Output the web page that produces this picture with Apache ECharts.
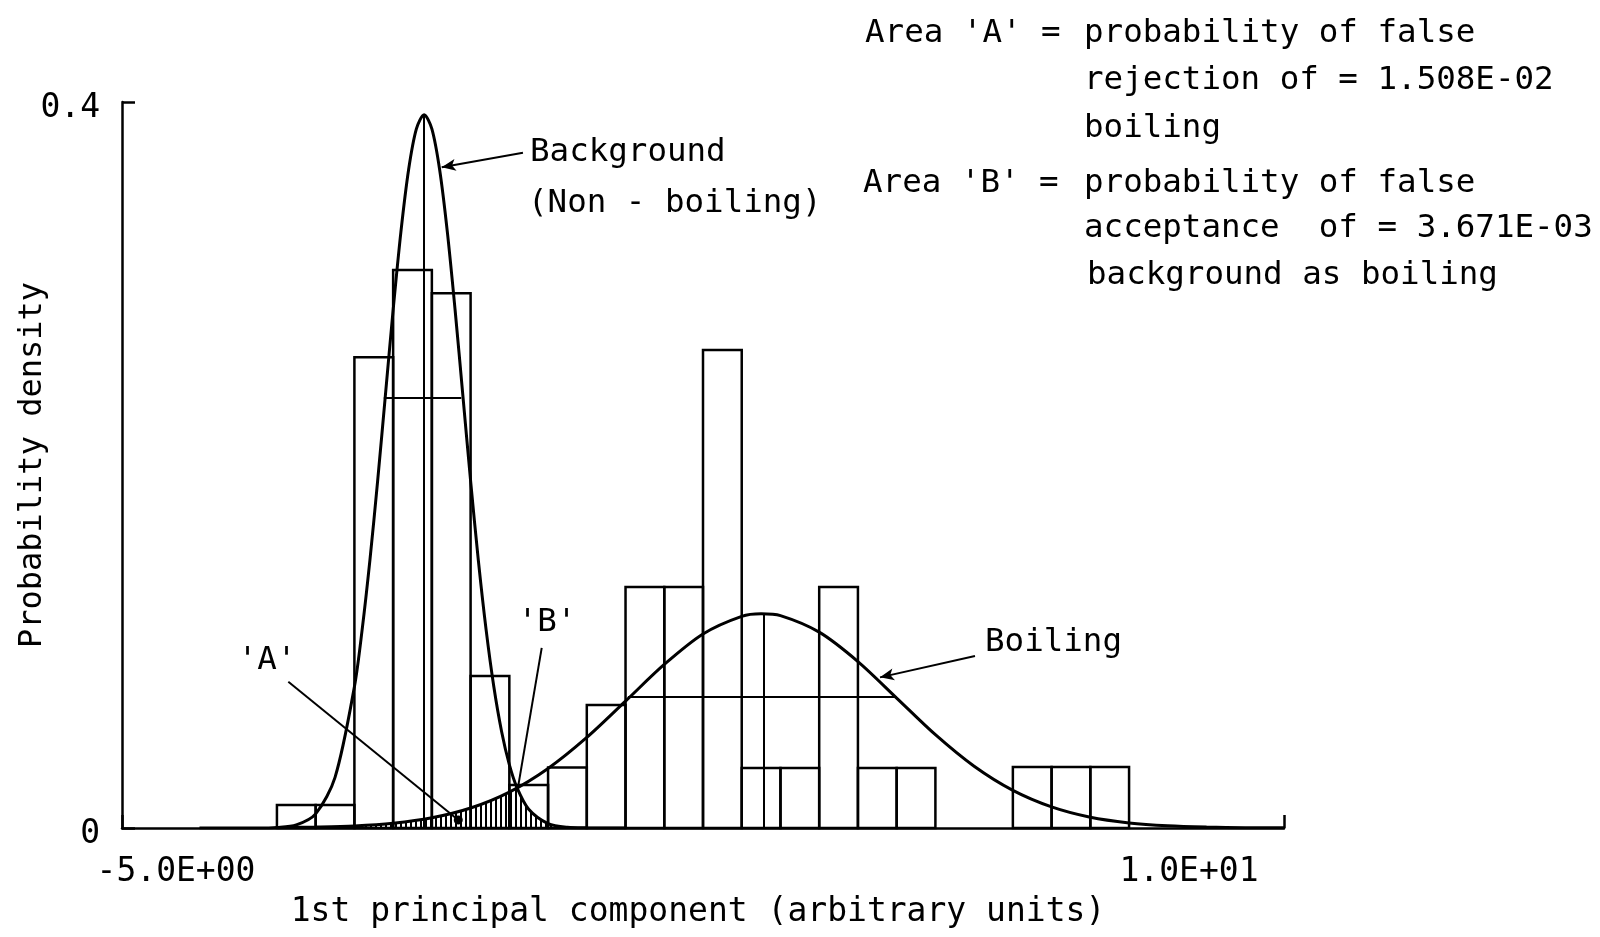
<!DOCTYPE html>
<html>
<head>
<meta charset="utf-8">
<title>Probability density</title>
<script src="https://cdn.jsdelivr.net/npm/echarts@6/dist/echarts.min.js"></script>
<style>
html, body { margin: 0; padding: 0; background: #fff; }
#chart { width: 1600px; height: 937px; }
</style>
</head>
<body>
<div id="chart"></div>
<script>
var FONT = '"DejaVu Sans Mono", monospace';

// histogram bins (width 0.5)
var binWidth = 0.5;
var bgBinStart = [-3, -2.5, -2, -1.5, -1, -0.5, 0];
var bgHeights = [0.0127, 0.0127, 0.2593, 0.3074, 0.2946, 0.0837, 0.0237];
var boilBinStart = [0.5, 1, 1.5, 2, 2.5, 3, 3.5, 4, 4.5, 5, 6.5, 7, 7.5];
var boilHeights = [0.0333, 0.0678, 0.1328, 0.1328, 0.2634, 0.0331, 0.0331, 0.1328, 0.0331, 0.0331, 0.0336, 0.0336, 0.0336];

// fitted curves
var bgCurveX = [-4, -3.5, -3.25, -3, -2.75, -2.5, -2.25, -2, -1.9, -1.8, -1.7, -1.6, -1.5, -1.4, -1.3, -1.2, -1.1, -1, -0.9, -0.8, -0.7, -0.6, -0.5, -0.4, -0.3, -0.2, -0.1, 0, 0.1, 0.25, 0.5, 0.75, 1, 1.5];
var bgCurveY = [0, 0, 0, 0.0003, 0.0017, 0.0078, 0.0279, 0.0778, 0.1093, 0.1475, 0.1913, 0.2384, 0.2854, 0.3283, 0.3628, 0.3852, 0.393, 0.3852, 0.3628, 0.3283, 0.2854, 0.2384, 0.1913, 0.1475, 0.1093, 0.0778, 0.0532, 0.0349, 0.0221, 0.0103, 0.0024, 0.0004, 0.0001, 0];
var boilCurveX = [-3, -2.5, -2, -1.5, -1, -0.5, 0, 0.5, 1, 1.5, 2, 2.5, 3, 3.25, 3.5, 4, 4.5, 5, 5.5, 6, 6.5, 7, 7.5, 8, 8.5, 9, 9.5, 10];
var boilCurveY = [0.0002, 0.0005, 0.0011, 0.0026, 0.0056, 0.0110, 0.0198, 0.0328, 0.0499, 0.0699, 0.0901, 0.1069, 0.1166, 0.118, 0.1170, 0.1079, 0.0917, 0.0716, 0.0514, 0.0340, 0.0207, 0.0116, 0.0059, 0.0028, 0.0012, 0.0005, 0.0002, 0.0001];

// hatched areas 'A' (boiling below threshold) and 'B' (background above it)
var areaAX = [-2.5, -2, -1.5, -1, -0.5, 0, 0.1];
var areaAY = [0.0005, 0.0011, 0.0026, 0.0056, 0.0110, 0.0198, 0.0220];
var areaBX = [0.1, 0.25, 0.5, 0.75];
var areaBY = [0.0221, 0.0103, 0.0024, 0.0004];

// mean and +-1 sigma markers [mean, peak, sigmaLeft, sigmaRight, sigmaHeight]
var bgMarks = [-1.1, 0.393, -1.62, -0.62, 0.237];
var boilMarks = [3.28, 0.118, 1.53, 5.0, 0.0725];

var xTicks = [-5, 10];
var xTickLabels = ['-5.0E+00', '1.0E+01'];
var yTickLabels = ['0', '0.4'];

function zip(xs, ys) {
    return xs.map(function (x, i) { return [x, ys[i]]; });
}
function histData(starts, heights) {
    return starts.map(function (s, i) { return [s, s + binWidth, heights[i]]; });
}
function renderBin(params, api) {
    var p0 = api.coord([api.value(0), api.value(2)]);
    var p1 = api.coord([api.value(1), 0]);
    return {
        type: 'rect',
        shape: { x: p0[0], y: p0[1], width: p1[0] - p0[0], height: p1[1] - p0[1] },
        style: { fill: 'none', stroke: '#000', lineWidth: 2.5 }
    };
}

var hatch = document.createElement('canvas');
hatch.width = 5;
hatch.height = 10;
var hctx = hatch.getContext('2d');
hctx.fillStyle = '#000';
hctx.fillRect(0, 0, 2, 10);

function txt(x, y, s, align) {
    return {
        type: 'text', x: x, y: y,
        style: { text: s, fill: '#000', font: '32.5px ' + FONT, textAlign: align || 'left', textVerticalAlign: 'middle' }
    };
}
function seg(a, b, endSymbol) {
    return [{ coord: a, symbol: 'none' }, { coord: b, symbol: endSymbol || 'none' }];
}

var chart = echarts.init(document.getElementById('chart'));

var option = {
    animation: false,
    backgroundColor: '#fff',
    grid: { left: 122, right: 316, top: 102, bottom: 109 },
    xAxis: {
        type: 'value',
        min: -5,
        max: 10,
        name: '1st principal component (arbitrary units)',
        nameLocation: 'middle',
        nameGap: 68,
        nameTextStyle: { color: '#000', fontSize: 33, fontFamily: FONT, padding: [0, 10, 0, 0] },
        axisLine: { onZero: false, lineStyle: { color: '#000', width: 2.5 } },
        axisTick: { inside: true, length: 13, customValues: xTicks, lineStyle: { color: '#000', width: 2.5 } },
        axisLabel: {
            customValues: xTicks,
            color: '#000', fontSize: 33, fontFamily: FONT, margin: 28,
            formatter: function (v) {
                return v === xTicks[0] ? '{lo|' + xTickLabels[0] + '}' : '{hi|' + xTickLabels[1] + '}';
            },
            rich: {
                lo: { color: '#000', fontSize: 33, fontFamily: FONT, padding: [0, 0, 0, 108] },
                hi: { color: '#000', fontSize: 33, fontFamily: FONT, padding: [0, 190, 0, 0] }
            }
        },
        splitLine: { show: false }
    },
    yAxis: {
        type: 'value',
        min: 0,
        max: 0.4,
        interval: 0.4,
        name: 'Probability density',
        nameLocation: 'middle',
        nameGap: 73,
        nameMoveOverlap: false,
        nameTextStyle: { color: '#000', fontSize: 32, fontFamily: FONT },
        axisLine: { show: true, onZero: false, lineStyle: { color: '#000', width: 2.5 } },
        axisTick: { show: true, inside: true, length: 13, lineStyle: { color: '#000', width: 2.5 } },
        axisLabel: {
            color: '#000', fontSize: 33, fontFamily: FONT, margin: 22,
            formatter: function (v) { return '{t|' + (v === 0 ? yTickLabels[0] : yTickLabels[1]) + '}'; },
            rich: {
                t: { color: '#000', fontSize: 33, fontFamily: FONT, padding: [13, 0, 0, 0] }
            }
        },
        splitLine: { show: false }
    },
    graphic: [
        txt(530, 153, 'Background'),
        txt(528, 204, '(Non - boiling)'),
        txt(985, 643, 'Boiling'),
        txt(267, 661, "'A'", 'center'),
        txt(547, 623, "'B'", 'center'),
        txt(865, 34, "Area 'A' ="),
        txt(1084, 34, 'probability of false'),
        txt(1084, 81, 'rejection of = 1.508E-02'),
        txt(1084, 129, 'boiling'),
        txt(863, 184, "Area 'B' ="),
        txt(1084, 184, 'probability of false'),
        txt(1084, 229, 'acceptance  of = 3.671E-03'),
        txt(1087, 276, 'background as boiling')
    ],
    series: [
        {
            type: 'custom', name: 'Background histogram',
            renderItem: renderBin,
            encode: { x: [0, 1], y: 2 },
            data: histData(bgBinStart, bgHeights), z: 2
        },
        {
            type: 'custom', name: 'Boiling histogram',
            renderItem: renderBin,
            encode: { x: [0, 1], y: 2 },
            data: histData(boilBinStart, boilHeights), z: 2
        },
        {
            type: 'line', name: 'Area A', data: zip(areaAX, areaAY),
            smooth: 0.3, showSymbol: false, silent: true,
            lineStyle: { width: 0 },
            areaStyle: { color: { image: hatch, repeat: 'repeat' }, opacity: 1 }, z: 3
        },
        {
            type: 'line', name: 'Area B', data: zip(areaBX, areaBY),
            smooth: 0.3, showSymbol: false, silent: true,
            lineStyle: { width: 0 },
            areaStyle: { color: { image: hatch, repeat: 'repeat' }, opacity: 1 }, z: 3
        },
        {
            type: 'line', name: 'Background', data: zip(bgCurveX, bgCurveY),
            smooth: 0.3, showSymbol: false,
            lineStyle: { color: '#000', width: 3 }, z: 4
        },
        {
            type: 'line', name: 'Boiling', data: zip(boilCurveX, boilCurveY),
            smooth: 0.3, showSymbol: false,
            lineStyle: { color: '#000', width: 3 }, z: 4
        },
        {
            type: 'line', name: 'marks', data: [], z: 5,
            markLine: {
                silent: true, animation: false,
                symbolSize: [9, 14],
                label: { show: false },
                lineStyle: { color: '#000', width: 2, type: 'solid' },
                data: [
                    seg([bgMarks[0], 0], [bgMarks[0], bgMarks[1]]),
                    seg([bgMarks[2], bgMarks[4]], [bgMarks[3], bgMarks[4]]),
                    seg([boilMarks[0], 0], [boilMarks[0], boilMarks[1]]),
                    seg([boilMarks[2], boilMarks[4]], [boilMarks[3], boilMarks[4]]),
                    seg([0.176, 0.372], [-0.873, 0.364], 'arrow'),
                    seg([6.011, 0.0948], [4.785, 0.083], 'arrow'),
                    seg([-2.853, 0.0806], [-0.659, 0.0044], 'circle'),
                    seg([0.418, 0.0992], [0.11, 0.022])
                ]
            }
        }
    ]
};

chart.setOption(option);
window.addEventListener('resize', function () {
    chart.resize();
});
</script>
</body>
</html>
